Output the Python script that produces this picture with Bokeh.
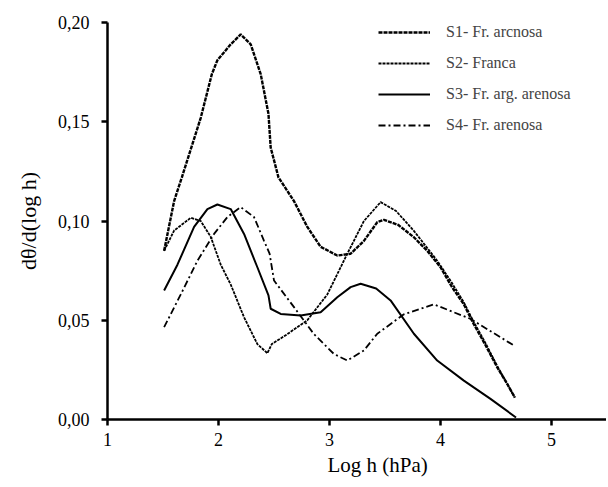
from bokeh.plotting import figure
from bokeh.models import Range1d, FixedTicker, Legend, LegendItem, Title
from bokeh.embed import file_html
from bokeh.resources import INLINE

# ---- data ----
s1_x = [1.51, 1.60, 1.67, 1.84, 1.94, 1.99, 2.11, 2.20, 2.29, 2.38, 2.45, 2.47, 2.54,
        2.68, 2.80, 2.92, 3.07, 3.19, 3.31, 3.43, 3.49, 3.62, 3.76, 3.88, 4.00, 4.10,
        4.21, 4.30, 4.40, 4.51, 4.60, 4.67]
s1_y = [0.085, 0.110, 0.122, 0.152, 0.174, 0.181, 0.189, 0.194, 0.189, 0.174, 0.154, 0.137,
        0.122, 0.110, 0.097, 0.087, 0.0826, 0.0835, 0.090, 0.0994, 0.1006, 0.098, 0.0918,
        0.085, 0.0767, 0.067, 0.058, 0.048, 0.038, 0.0264, 0.018, 0.011]

s2_x = [1.51, 1.60, 1.75, 1.84, 1.93, 2.02, 2.11, 2.23, 2.35, 2.44, 2.48, 2.62, 2.80,
        2.98, 3.16, 3.31, 3.46, 3.60, 3.76, 3.97, 4.10, 4.21, 4.30, 4.40, 4.51, 4.60, 4.67]
s2_y = [0.085, 0.0952, 0.1016, 0.100, 0.092, 0.078, 0.068, 0.0515, 0.038, 0.0334, 0.038,
        0.043, 0.050, 0.063, 0.0835, 0.100, 0.1095, 0.105, 0.095, 0.080, 0.069, 0.059,
        0.049, 0.039, 0.027, 0.018, 0.011]

s3_x = [1.51, 1.63, 1.78, 1.90, 1.99, 2.11, 2.23, 2.35, 2.45, 2.47, 2.56, 2.74, 2.92,
        3.07, 3.19, 3.28, 3.42, 3.55, 3.76, 3.97, 4.21, 4.45, 4.68]
s3_y = [0.065, 0.078, 0.097, 0.106, 0.1083, 0.106, 0.0935, 0.0767, 0.0625, 0.0558, 0.0532,
        0.0524, 0.054, 0.0616, 0.0667, 0.0684, 0.066, 0.060, 0.0432, 0.0297, 0.0196,
        0.0104, 0.001]

s4_x = [1.51, 1.66, 1.81, 1.96, 2.08, 2.20, 2.32, 2.41, 2.46, 2.50, 2.68, 2.86, 3.04,
        3.16, 3.31, 3.43, 3.67, 3.94, 4.27, 4.66]
s4_y = [0.0465, 0.063, 0.080, 0.0935, 0.102, 0.107, 0.102, 0.090, 0.0836, 0.070, 0.0566,
        0.043, 0.033, 0.0297, 0.0348, 0.0432, 0.053, 0.058, 0.0507, 0.0373]

series_names = ["S1- Fr. arcnosa", "S2- Franca", "S3- Fr. arg. arenosa", "S4- Fr. arenosa"]

x_ticks = [1, 2, 3, 4, 5]
x_tick_labels = ["1", "2", "3", "4", "5"]
y_ticks = [0.0, 0.05, 0.10, 0.15, 0.20]
y_tick_labels = ["0,00", "0,05", "0,10", "0,15", "0,20"]

x_title = "Log h (hPa)"
y_title = "dθ/d(log h)"

FONT = "Liberation Serif"

p = figure(width=606, height=482, output_backend="svg", toolbar_location=None,
           x_range=Range1d(1, 5.495), y_range=Range1d(0, 0.20),
           min_border_left=107, min_border_right=0, min_border_top=22, min_border_bottom=63)
p.outline_line_color = None
p.xgrid.visible = False
p.ygrid.visible = False
p.background_fill_color = "white"
p.border_fill_color = "white"

for ax in (p.xaxis[0], p.yaxis[0]):
    ax.axis_line_width = 2.5
    ax.axis_line_color = "black"
    ax.major_tick_line_width = 2.5
    ax.major_tick_line_color = "black"
    ax.major_tick_out = 6
    ax.major_tick_in = 0
    ax.minor_tick_line_color = None
    ax.major_label_text_font = FONT
    ax.major_label_text_font_size = "18px"
    ax.major_label_text_color = "black"

p.xaxis.ticker = FixedTicker(ticks=x_ticks)
p.xaxis.major_label_overrides = {t: l for t, l in zip(x_ticks, x_tick_labels)}
p.xaxis.major_label_standoff = 7
p.yaxis.ticker = FixedTicker(ticks=y_ticks)
p.yaxis.major_label_overrides = {t: l for t, l in zip(y_ticks, y_tick_labels)}
p.yaxis.major_label_standoff = 12

p.yaxis.axis_label = y_title
p.yaxis.axis_label_text_font = FONT
p.yaxis.axis_label_text_font_size = "22px"
p.yaxis.axis_label_text_font_style = "normal"
p.yaxis.axis_label_text_color = "black"
p.yaxis.axis_label_standoff = 14

p.add_layout(Title(text=x_title, align="left", offset=220, text_font=FONT,
                   text_font_size="21px", text_font_style="normal", text_color="black",
                   standoff=5), "below")

r1 = p.line(s1_x, s1_y, line_color="black", line_width=2.4, line_dash="4 1")
r2 = p.line(s2_x, s2_y, line_color="black", line_width=1.8, line_dash="3 1")
r3 = p.line(s3_x, s3_y, line_color="black", line_width=2.0)
r4 = p.line(s4_x, s4_y, line_color="black", line_width=1.8, line_dash="7 3 2 3")

legend = Legend(items=[LegendItem(label=n, renderers=[r])
                       for n, r in zip(series_names, [r1, r2, r3, r4])],
                location=(271, 284), padding=0, margin=0, spacing=11,
                glyph_width=52, glyph_height=20, label_height=20, label_standoff=16,
                label_text_font=FONT, label_text_font_size="16px",
                border_line_color=None, background_fill_alpha=0)
p.add_layout(legend)

open("out.html", "w").write(file_html(p, INLINE))
